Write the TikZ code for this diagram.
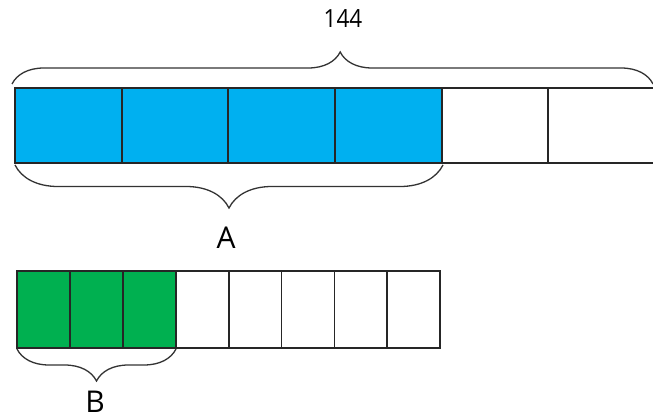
\documentclass[tikz,border=0pt]{standalone}
\usepackage{fontspec}
\setmainfont{Open Sans}
\usetikzlibrary{decorations.pathreplacing}
\definecolor{barblue}{HTML}{00B0F0}
\definecolor{bargreen}{HTML}{00B050}
\tikzset{
  cellline/.style={draw=black!85, line width=1.8pt},
  bracestyle/.style 2 args={draw=black!80, line width=1.3pt, decorate,
     decoration={brace, amplitude=#1, aspect=#2}},
  lbl/.style={font=\fontsize{30}{32}\selectfont, inner sep=0pt, anchor=base}
}
\begin{document}
\begin{tikzpicture}[x=1pt,y=1pt]
\useasboundingbox (0,0) rectangle (653,420);
\clip (0,0) rectangle (653,420);
\fill[white] (0,0) rectangle (653,420);
% top bar
\foreach \i in {0,...,3} {
  \fill[barblue] ({15+106.67*\i},257) rectangle ({15+106.67*(\i+1)},332);
}
\foreach \i in {0,...,5} {
  \draw[cellline] ({15+106.67*\i},257) rectangle ({15+106.67*(\i+1)},332);
}
% bottom bar
\foreach \i in {0,...,2} {
  \fill[bargreen] ({17+52.9*\i},72) rectangle ({17+52.9*(\i+1)},149);
}
\foreach \i in {0,...,7} {
  \draw[cellline] ({17+52.9*\i},72) rectangle ({17+52.9*(\i+1)},149);
}
% braces
\coordinate (t1) at (12,336);
\coordinate (t2) at (653,336);
\draw[bracestyle={32}{0.512}] (t1) -- (t2);
\coordinate (a1) at (443,255);
\coordinate (a2) at (15,255);
\draw[bracestyle={43}{0.5}] (a1) -- (a2);
\coordinate (b1) at (176,71);
\coordinate (b2) at (17,71);
\draw[bracestyle={32}{0.5}] (b1) -- (b2);
% labels
\node[lbl, font=\fontsize{25}{27}\selectfont, xscale=0.9] (n144) at (343,392) {144};
\node[lbl] (nA) at (226,171) {A};
\node[lbl] (nB) at (95,7) {B};
\end{tikzpicture}
\end{document}
